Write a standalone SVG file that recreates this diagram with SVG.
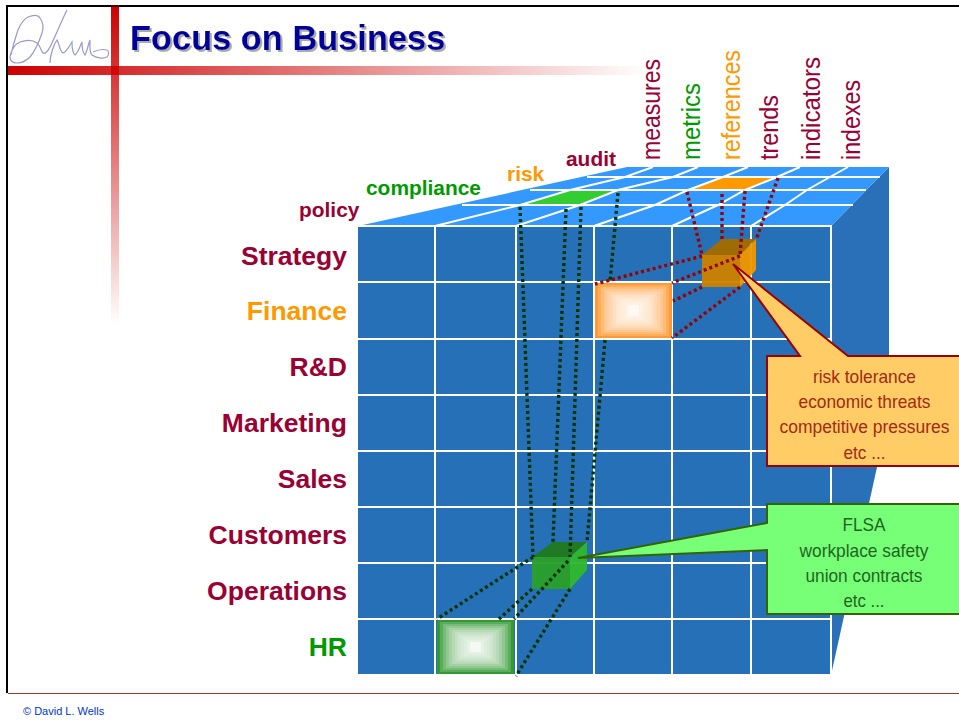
<svg xmlns="http://www.w3.org/2000/svg" width="959" height="721" viewBox="0 0 959 721">
<style>
text{font-family:"Liberation Sans",Arial,sans-serif}
.row{font-size:26.5px;font-weight:bold;text-anchor:end;fill:#990033}
.col{font-size:20.9px;font-weight:bold;fill:#990033}
.met{font-size:25px;fill:#990033}
.or{fill:#FF9900}.gr{fill:#009900}
.grid{stroke:#fff;stroke-width:2;fill:none}
.dr{stroke:#990000;stroke-width:3.4;stroke-dasharray:3 3;fill:none}
.dg{stroke:#003300;stroke-width:3.4;stroke-dasharray:3 3;fill:none}
.co{font-size:19px;text-anchor:middle;fill:#A32A14}
.cg{font-size:19px;text-anchor:middle;fill:#1F661F}
.glow rect{fill:#fff;fill-opacity:.19}
</style>
<defs>
<linearGradient id="hb" x1="0" x2="1" y1="0" y2="0"><stop offset="0" stop-color="#CC0000"/><stop offset="1" stop-color="#CC0000" stop-opacity="0"/></linearGradient>
<linearGradient id="vb" x1="0" x2="0" y1="0" y2="1"><stop offset="0" stop-color="#CC0000"/><stop offset="1" stop-color="#CC0000" stop-opacity="0"/></linearGradient>
<filter id="sh" x="-5%" y="-20%" width="110%" height="140%"><feDropShadow dx="2" dy="2" stdDeviation="0.4" flood-color="#AAAAAA" flood-opacity="1"/></filter>
</defs>
<rect width="959" height="721" fill="#fff"/>
<g id="frame">
<rect x="111" y="5" width="8" height="320" fill="url(#vb)"/>
<rect x="8" y="66" width="640" height="9" fill="url(#hb)"/>
<rect x="6" y="5" width="953" height="2" fill="#000"/>
<rect x="6" y="5" width="2" height="688" fill="#000"/>
<rect x="111" y="5" width="8" height="2" fill="#400"/>
<rect x="8" y="693" width="951" height="1" fill="#B03030"/>
<path d="M11 55C13 45 16 36 18 30C21 23 24 19 28 17C33 15 38 15 40 18C43 22 44 27 42 33C39 42 35 51 30 57C26 61 21 63 17 63C13 63 10 61 10 57C11 50 15 44 20 42C26 40 33 40 37 43C40 45 41 51 43 53C45 54 48 51 50 47C55 37 61 22 67 10" fill="none" stroke="#9999CC" stroke-width="1.2"/>
<path d="M50 63C50 55 54 44 57 40C59 42 59 50 63 53C67 52 69 46 72 42C72 47 72 53 75 55C78 53 80 46 82 42C82 47 83 53 85 55C87 52 88 45 90 40C90 46 89 52 92 55C96 58 103 59 107 57C110 54 108 50 107 50C103 49 97 50 93 52" fill="none" stroke="#9999CC" stroke-width="1.2"/>
<text x="130" y="50" font-size="34.4" font-weight="bold" fill="#000099" filter="url(#sh)">Focus on Business</text>
<text x="23" y="715" font-size="11" fill="#0033CC">© David L. Wells</text>
</g>
<g id="cube">
<polygon points="831,226 889,167 889,413 831,675" fill="#2970B8"/>
<polygon points="358,226 831,226 889,167 627,167" fill="#3399FF"/>
<rect x="358" y="226" width="473" height="449" fill="#2670B8"/>
<polygon points="522,205 570,190 618,190 580,205" fill="#33CC33"/>
<polygon points="688,190 723,177 777,177 745,190" fill="#FF9900"/>
<path class="grid" d="M462 205H853M530 190H866M587 177H880M435 226L520 205L570 190L625 177L653 167M516 226L580 205L618 190L673 177L698 167M594 226L655 205L688 190L723 177L748 167M672 226L718 205L745 190L777 177L800 167M751 226L785 205L807 190L830 177L848 167M358 226H831V675H358M435 226V675M516 226V675M594 226V675M672 226V675M751 226V675M358 282H831M358 339H831M358 395H831M358 451H831M358 507H831M358 563H831M358 619H831"/>
</g>
<g id="cell-finance" class="glow">
<rect x="595" y="283" width="77" height="55" style="fill:#FF9933;fill-opacity:1"/>
<rect x="598" y="285" width="71" height="51"/>
<rect x="601" y="287" width="65" height="47"/>
<rect x="604" y="289" width="59" height="43"/>
<rect x="607" y="291" width="53" height="39"/>
<rect x="610" y="293" width="47" height="35"/>
<rect x="613" y="295" width="41" height="31"/>
<rect x="616" y="297" width="35" height="27"/>
<rect x="619" y="299" width="29" height="23"/>
<rect x="622" y="301" width="23" height="19"/>
<rect x="625" y="303" width="17" height="15"/>
<rect x="628" y="305" width="11" height="11" style="fill-opacity:.6"/>
</g>
<g id="cell-hr" class="glow">
<rect x="437" y="620" width="77" height="54" style="fill:#339933;fill-opacity:1"/>
<rect x="440" y="622" width="71" height="50"/>
<rect x="443" y="624" width="65" height="46"/>
<rect x="446" y="626" width="59" height="42"/>
<rect x="449" y="628" width="53" height="38"/>
<rect x="452" y="630" width="47" height="34"/>
<rect x="455" y="632" width="41" height="30"/>
<rect x="458" y="634" width="35" height="26"/>
<rect x="461" y="636" width="29" height="22"/>
<rect x="464" y="638" width="23" height="18"/>
<rect x="467" y="640" width="17" height="14"/>
<rect x="470" y="642" width="11" height="10" style="fill-opacity:.6"/>
</g>
<g id="cube-orange" fill-opacity="0.96">
<polygon points="702,255 722,239 756,239 740,255" fill="#A36B00"/>
<polygon points="740,255 756,239 756,270 740,287" fill="#EE9700"/>
<rect x="702" y="255" width="38" height="32" fill="#CC8200"/>
</g>
<g id="cube-green" fill-opacity="0.96">
<polygon points="532,557 553,542 587,542 570,557" fill="#1F7A1F"/>
<polygon points="570,557 587,542 587,570 570,589" fill="#2EB82E"/>
<rect x="532" y="557" width="38" height="32" fill="#2A9F2A"/>
</g>
<g id="connectors">
<path class="dr" d="M687 192L702 255M722 194L722 239M745 191L740 255M778 178L756 240M702 256L595 284M740 256L672 283M702 287L673 301M740 287L672 338"/>
<path class="dg" d="M520 207L533 557M566 209L553 542M581 207L570 557M618 193L610 282M605 340L587 542M533 557L437 619M568 561L514 619M532 589L499 619M570 589L516 676"/>
</g>
<g id="labels">
<text class="row" x="347" y="265">Strategy</text>
<text class="row or" x="347" y="320">Finance</text>
<text class="row" x="347" y="376">R&amp;D</text>
<text class="row" x="347" y="432">Marketing</text>
<text class="row" x="347" y="488">Sales</text>
<text class="row" x="347" y="544">Customers</text>
<text class="row" x="347" y="600">Operations</text>
<text class="row gr" x="347" y="656">HR</text>
<text class="col" x="299" y="217">policy</text>
<text class="col gr" x="366" y="195">compliance</text>
<text class="col or" x="507" y="181">risk</text>
<text class="col" x="566" y="166">audit</text>
<text class="met" textLength="101" lengthAdjust="spacingAndGlyphs" transform="translate(660 160) rotate(-90)">measures</text>
<text class="met gr" textLength="77" lengthAdjust="spacingAndGlyphs" transform="translate(700 160) rotate(-90)">metrics</text>
<text class="met or" textLength="110" lengthAdjust="spacingAndGlyphs" transform="translate(740 160) rotate(-90)">references</text>
<text class="met" textLength="65" lengthAdjust="spacingAndGlyphs" transform="translate(778 160) rotate(-90)">trends</text>
<text class="met" textLength="103" lengthAdjust="spacingAndGlyphs" transform="translate(820 160) rotate(-90)">indicators</text>
<text class="met" textLength="80" lengthAdjust="spacingAndGlyphs" transform="translate(860 160) rotate(-90)">indexes</text>
</g>
<g id="callout-risk">
<path d="M964 356H848L733 264L800 356H767V466H964Z" fill="#FFCC66" stroke="#990000" stroke-width="2"/>
<text class="co" x="864.5" y="383" textLength="103" lengthAdjust="spacingAndGlyphs">risk tolerance</text>
<text class="co" x="864.5" y="408" textLength="132" lengthAdjust="spacingAndGlyphs">economic threats</text>
<text class="co" transform="translate(864.5 433) scale(.92 1)">competitive pressures</text>
<text class="co" x="864.5" y="459" textLength="42" lengthAdjust="spacingAndGlyphs">etc ...</text>
</g>
<g id="callout-compliance">
<path d="M964 504H767V523L578 558L767 550V614H964Z" fill="#77FF77" stroke="#336600" stroke-width="2"/>
<text class="cg" x="864" y="531" textLength="43" lengthAdjust="spacingAndGlyphs">FLSA</text>
<text class="cg" x="864" y="557" textLength="129" lengthAdjust="spacingAndGlyphs">workplace safety</text>
<text class="cg" x="864" y="582" textLength="117" lengthAdjust="spacingAndGlyphs">union contracts</text>
<text class="cg" x="864" y="607" textLength="41" lengthAdjust="spacingAndGlyphs">etc ...</text>
</g>
</svg>
